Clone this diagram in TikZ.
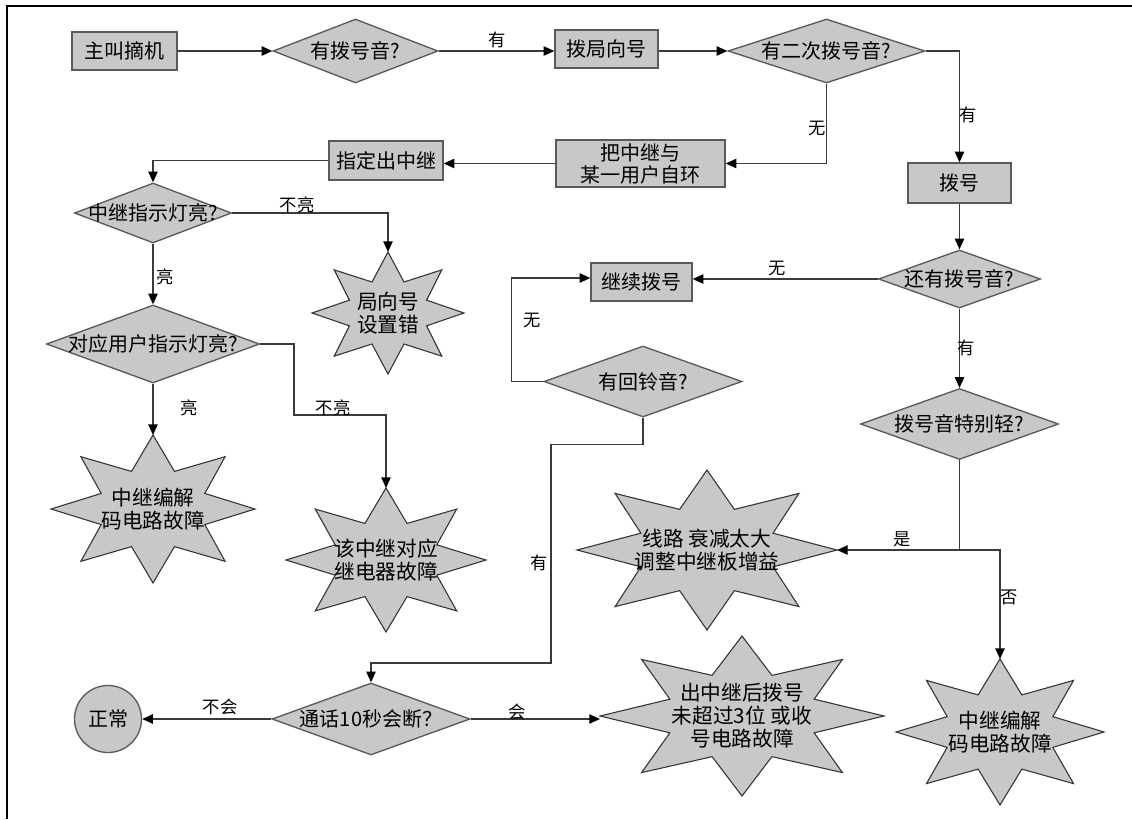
\documentclass[tikz,border=0pt]{standalone}
\usepackage{fontspec}
\setmainfont{Noto Sans CJK SC}
\usetikzlibrary{arrows.meta,shapes.geometric,calc}
\definecolor{shapefill}{HTML}{C8C8C8}
\definecolor{shapeline}{HTML}{5A5A5A}
\definecolor{connline}{HTML}{3A3A3A}
\tikzset{
  sz/.style 2 args={minimum width=#1*0.75pt, minimum height=#2*0.75pt},
  box/.style={draw=shapeline, fill=shapefill, line width=1pt, inner sep=0pt, align=center, font=\fontsize{15}{16.5}\selectfont},
  dia/.style={diamond, draw=shapeline, fill=shapefill, line width=1pt, inner sep=0pt, font=\fontsize{15}{16.5}\selectfont},
  endcircle/.style={circle, draw=shapeline, fill=shapefill, line width=1pt, inner sep=0pt, font=\fontsize{15}{16.5}\selectfont},
  burstline/.style={draw=black!80, fill=shapefill, line width=0.8pt, line join=miter},
  bursttext/.style={align=center, inner sep=0pt, font=\fontsize{15.5}{17.25}\selectfont},
  lbl/.style={inner sep=0pt, font=\fontsize{13}{14}\selectfont},
  conn/.style={draw=connline, line width=1pt, -{Triangle[length=8pt,width=7pt,color=black]}},
  seg/.style={draw=connline, line width=1pt},
}
\newcommand\burstnode[6]{%
  \begin{scope}[shift={(#2,#3)}]
    \draw[burstline] (#4,0)
      \foreach \k in {1,...,15}{
        -- ({#4*(0.775+0.225*cos(\k*180))*cos(\k*22.5)},{#5*(0.775+0.225*cos(\k*180))*sin(\k*22.5)})
      } -- cycle;
    \coordinate (#1-n) at (0,-#5);
    \coordinate (#1-s) at (0,#5);
    \coordinate (#1-w) at (-#4,0);
    \coordinate (#1-e) at (#4,0);
    \node[bursttext] (#1) at (0,0) {#6};
  \end{scope}%
}
\begin{document}
\begin{tikzpicture}[x=0.75pt,y=-0.75pt]
\useasboundingbox (0,0) rectangle (1132,819);
\fill[white] (0,0) rectangle (1132,819);
\draw[line width=1.5pt] (7,819) -- (7,6) -- (1132,6);

% boxes
\node[box, sz={105}{38}] (start) at (124.5,51) {主叫摘机};
\node[box, sz={103}{38}] (dir) at (606.5,49) {拨局向号};
\node[box, sz={169}{47}] (loop) at (640.5,163.5) {把中继与\\某一用户自环};
\node[box, sz={114}{39}] (spec) at (386,160.5) {指定出中继};
\node[box, sz={103}{40}] (dial) at (959.5,183) {拨号};
\node[box, sz={101}{38}] (cont) at (641.5,282) {继续拨号};

% diamonds
\node[dia, sz={165}{64}] (d1) at (355.5,51) {\makebox[0pt]{有拨号音?}};
\node[dia, sz={197}{64}] (d2) at (826.5,51) {\makebox[0pt]{有二次拨号音?}};
\node[dia, sz={157}{60}] (d3) at (153,213) {\makebox[0pt]{中继指示灯亮?}};
\node[dia, sz={213}{78}] (d4) at (153,344) {\makebox[0pt]{对应用户指示灯亮?}};
\node[dia, sz={162}{58}] (d5) at (959.5,279) {\makebox[0pt]{还有拨号音?}};
\node[dia, sz={198}{71}] (d6) at (959.5,424) {\makebox[0pt]{拨号音特别轻?}};
\node[dia, sz={198}{71}] (d7) at (643,381.5) {\makebox[0pt]{有回铃音?}};
\node[dia, sz={198}{72}] (d8) at (371,719) {\makebox[0pt]{通话10秒会断？}};
\node[endcircle, sz={67}{67}] (ok) at (108,719) {正常};

% bursts
\burstnode{s1}{388}{313}{76}{61}{局向号\\设置错}
\burstnode{s2}{153}{509}{102}{74}{中继编解\\码电路故障}
\burstnode{s3}{386}{560}{100}{72}{该中继对应\\继电器故障}
\burstnode{s4}{707}{550}{130}{80}{线路 衰减太大\\调整中继板增益}
\burstnode{s5}{742}{716}{142}{80}{出中继后拨号\\未超过3位 或收\\号电路故障}
\burstnode{s6}{1000}{732}{104}{73}{中继编解\\码电路故障}

% connectors
\draw[conn] (start.east) -- (d1.west);
\draw[conn] (d1.east) -- (d1.east -| dir.west);
\draw[conn] (dir.east |- d2.west) -- (d2.west);
\draw[conn] (d2.east) -| (dial.north);
\draw[conn] (d2.south) |- (loop.east);
\draw[conn] (loop.west) -- (loop.west -| spec.east);
\draw[conn] (spec.west) -| (d3.north);
\draw[conn] (d3.east) -| (s1-n);
\draw[conn] (d3.south) -- (d4.north);
\draw[conn] (d4.east) -| (294,415) -| (s3-n);
\draw[conn] (d4.south) -- (s2-n);
\draw[conn] (dial.south) -- (d5.north);
\draw[conn] (d5.west) -- (d5.west -| cont.east);
\draw[conn] (d5.south) -- (d6.north);
\draw[conn] (d7.west) -- ++(-32,0) |- ($(cont.west)+(0,-4)$);
\draw[conn] (d7.south) -- ++(0,27) -| (551,663) -| (d8.north);
\draw[conn] (d8.west) -- (ok.east);
\draw[conn] (d8.east) -- (d8.east -| s5-w);
\draw[conn] (d6.south) |- (s4-e);
\draw[conn] (s4-e -| d6.south) -| (s6-n);

% labels
\node[lbl] (l1) at (497,40) {有};
\node[lbl] (l2) at (968,115) {有};
\node[lbl] (l3) at (817,128) {无};
\node[lbl] (l4) at (297,205) {不亮};
\node[lbl] (l5) at (165,277) {亮};
\node[lbl] (l6) at (189,408) {亮};
\node[lbl] (l7) at (333,408) {不亮};
\node[lbl] (l8) at (777,268) {无};
\node[lbl] (l9) at (966,348) {有};
\node[lbl] (l10) at (532,320) {无};
\node[lbl] (l11) at (539,563) {有};
\node[lbl] (l12) at (902,539) {是};
\node[lbl] (l13) at (1009,597) {否};
\node[lbl] (l14) at (220,707) {不会};
\node[lbl] (l15) at (517,712) {会};
\end{tikzpicture}
\end{document}
